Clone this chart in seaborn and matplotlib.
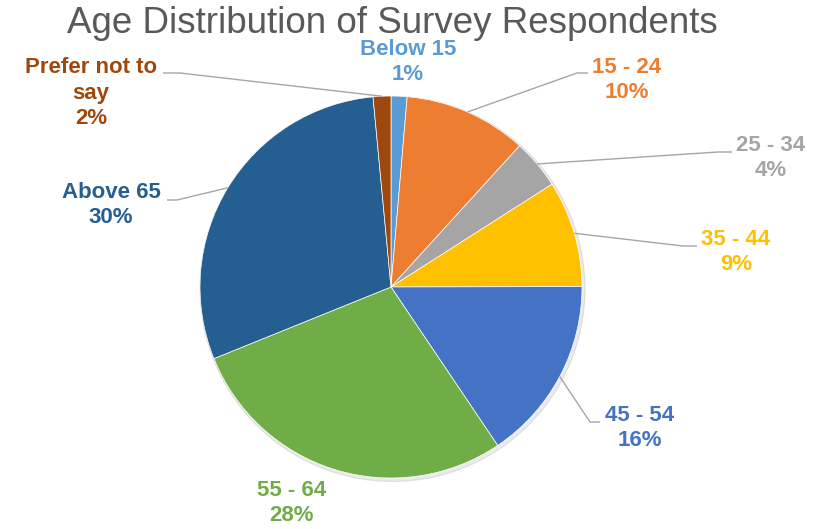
import matplotlib
matplotlib.use("Agg")
import matplotlib.pyplot as plt
import seaborn as sns
import numpy as np

categories = ["Below 15", "15 - 24", "25 - 34", "35 - 44", "45 - 54", "55 - 64", "Above 65", "Prefer not to\nsay"]
values = [1.35, 10.4, 4.2, 9.0, 15.6, 28.3, 29.6, 1.5]
colors = ["#5B9BD5", "#ED7D31", "#A5A5A5", "#FFC000", "#4472C4", "#70AD47", "#255E91", "#9E480E"]
title = "Age Distribution of Survey Respondents"

# layout (pixel coordinates, y measured from top)
W, H = 818, 529
center_px = (391, 287)
radius_px = 191
label_pos = [(408, 62), (627, 80), (771, 158), (736, 252), (640, 428), (292, 503), (111, 205), (91, 93)]
leader = [None, ((588, 73), (577, 73)), ((732, 152), (718, 152)), ((697, 246), (683, 246)),
          ((600, 422), (590, 422)), None, ((167, 200), (177, 200)), ((163, 73), (180, 73))]

sns.set_theme(style="white")
plt.rcParams['font.family'] = ['Liberation Sans', 'DejaVu Sans']

def P(x, y):
    return (x, H - y)

fig = plt.figure(figsize=(W / 100, H / 100), dpi=100)
ax = fig.add_axes([0, 0, 1, 1])

cx, cy = P(*center_px)
# subtle shadow
shadow = plt.Circle((cx + 1.5, cy - 2), radius_px + 1.5, color="#000000", alpha=0.08, zorder=0)
ax.add_patch(shadow)

wedges, _ = ax.pie(values, colors=colors, startangle=90, counterclock=False,
                   center=(cx, cy), radius=radius_px, frame=True,
                   wedgeprops=dict(edgecolor="white", linewidth=0.5))
ax.set_xlim(0, W)
ax.set_ylim(0, H)
ax.axis("off")

total = sum(values)
for i, (w, cat, v) in enumerate(zip(wedges, categories, values)):
    pct = f"{round(v / total * 100):.0f}%"
    tx, ty = P(*label_pos[i])
    ax.text(tx, ty, f"{cat}\n{pct}", ha="center", va="center", fontsize=16,
            fontweight="bold", color=colors[i], linespacing=1.3, zorder=5)
    if leader[i] is not None:
        ang = np.deg2rad((w.theta1 + w.theta2) / 2)
        ex = cx + radius_px * np.cos(ang)
        ey = cy + radius_px * np.sin(ang)
        (sx, sy), (bx, by) = leader[i]
        sx, sy = P(sx, sy)
        bx, by = P(bx, by)
        ax.plot([sx, bx, ex], [sy, by, ey], color="#A6A6A6", linewidth=1.0, zorder=4,
                solid_capstyle="butt")

tx, ty = P(392, 33)
ax.text(tx, ty, title, ha="center", va="baseline", fontsize=26.5, color="#595959")

fig.savefig("out.png", dpi=100)
